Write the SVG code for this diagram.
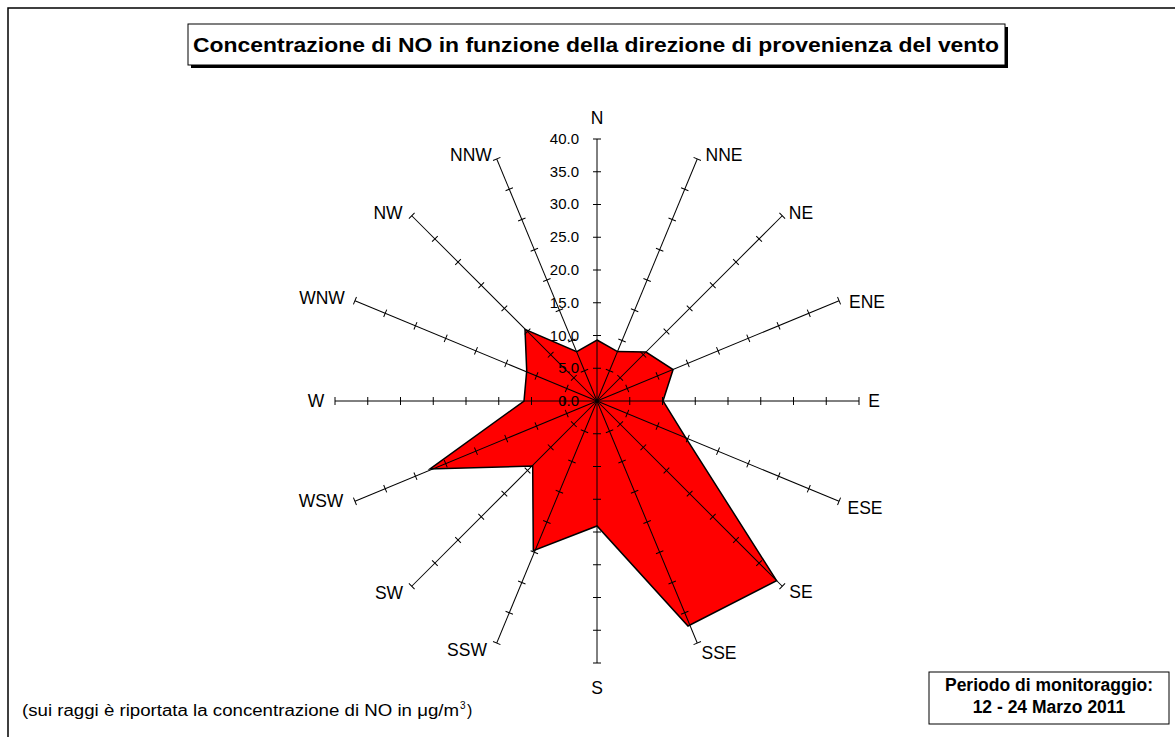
<svg xmlns="http://www.w3.org/2000/svg" width="1175" height="737" viewBox="0 0 1175 737">
<style>
.ax{stroke:#000;stroke-width:1;fill:none}
.tk{stroke:#000;stroke-width:1}
.dir{font-family:"Liberation Sans",Arial,sans-serif;font-size:17.5px;fill:#000;text-anchor:middle}
.val{font-family:"Liberation Sans",Arial,sans-serif;font-size:15px;fill:#000;text-anchor:end}
.ttl{font-family:"Liberation Sans",Arial,sans-serif;font-size:21px;font-weight:bold;fill:#000;text-anchor:middle}
.per{font-family:"Liberation Sans",Arial,sans-serif;font-size:17.5px;font-weight:bold;fill:#000;text-anchor:middle}
.note{font-family:"Liberation Sans",Arial,sans-serif;font-size:16px;fill:#000}
.sup{font-family:"Liberation Sans",Arial,sans-serif;font-size:10px;fill:#000}
</style>
<defs>
<g id="axis">
<line class="ax" x1="597" y1="401" x2="597" y2="139"/>
<path class="tk" d="M593,368.25H601M593,335.5H601M593,302.75H601M593,270H601M593,237.25H601M593,204.5H601M593,171.75H601M593,139H601"/>
</g>
</defs>
<rect x="0" y="0" width="1175" height="737" fill="#fff"/>
<rect x="8" y="8" width="1200" height="800" fill="none" stroke="#000" stroke-width="1.5"/>
<g id="title">
<rect x="191" y="27" width="817" height="41" fill="#000"/>
<rect x="188" y="24" width="817" height="41" fill="#fff" stroke="#000" stroke-width="1"/>
<text class="ttl" x="596" y="52" textLength="806" lengthAdjust="spacingAndGlyphs">Concentrazione di NO in funzione della direzione di provenienza del vento</text>
</g>
<g id="data">
<polygon points="597,340 617.5,351.6 646,352 673.1,369.5 663,401 685.7,437.7 776.6,580.6 688,626 597,526 533.3,550.7 532.7,466 430,469 524,401 526.7,370.7 525,329.3 576.7,351.7" fill="#ff0000" stroke="#000" stroke-width="1.5" stroke-linejoin="miter"/>
</g>
<g id="connectors">
<use href="#axis"/>
<use href="#axis" transform="rotate(22.5 597 401)"/>
<use href="#axis" transform="rotate(45 597 401)"/>
<use href="#axis" transform="rotate(67.5 597 401)"/>
<use href="#axis" transform="rotate(90 597 401)"/>
<use href="#axis" transform="rotate(112.5 597 401)"/>
<use href="#axis" transform="rotate(135 597 401)"/>
<use href="#axis" transform="rotate(157.5 597 401)"/>
<use href="#axis" transform="rotate(180 597 401)"/>
<use href="#axis" transform="rotate(202.5 597 401)"/>
<use href="#axis" transform="rotate(225 597 401)"/>
<use href="#axis" transform="rotate(247.5 597 401)"/>
<use href="#axis" transform="rotate(270 597 401)"/>
<use href="#axis" transform="rotate(292.5 597 401)"/>
<use href="#axis" transform="rotate(315 597 401)"/>
<use href="#axis" transform="rotate(337.5 597 401)"/>
</g>
<g id="scale">
<text class="val" x="579" y="144">40.0</text>
<text class="val" x="579" y="177">35.0</text>
<text class="val" x="579" y="209">30.0</text>
<text class="val" x="579" y="242">25.0</text>
<text class="val" x="579" y="275">20.0</text>
<text class="val" x="579" y="308">15.0</text>
<text class="val" x="579" y="341">10.0</text>
<text class="val" x="579" y="373">5.0</text>
<text class="val" x="579" y="406">0.0</text>
</g>
<g id="labels">
<text class="dir" x="597" y="124">N</text>
<text class="dir" x="724" y="161">NNE</text>
<text class="dir" x="801" y="219">NE</text>
<text class="dir" x="867" y="308">ENE</text>
<text class="dir" x="874" y="407">E</text>
<text class="dir" x="865" y="514">ESE</text>
<text class="dir" x="801" y="598">SE</text>
<text class="dir" x="719" y="659">SSE</text>
<text class="dir" x="597" y="694">S</text>
<text class="dir" x="467" y="656">SSW</text>
<text class="dir" x="389" y="599">SW</text>
<text class="dir" x="321" y="507">WSW</text>
<text class="dir" x="316" y="407">W</text>
<text class="dir" x="322" y="304">WNW</text>
<text class="dir" x="388" y="219">NW</text>
<text class="dir" x="471" y="161">NNW</text>
</g>
<g id="period">
<rect x="929" y="672" width="240" height="52" fill="#fff" stroke="#000" stroke-width="1"/>
<text class="per" x="1049" y="691">Periodo di monitoraggio:</text>
<text class="per" x="1049" y="713">12 - 24 Marzo 2011</text>
</g>
<g id="note">
<text class="note" x="22" y="716" textLength="437" lengthAdjust="spacingAndGlyphs">(sui raggi è riportata la concentrazione di NO in μg/m</text>
<text class="sup" x="460" y="709">3</text>
<text class="note" x="467" y="716">)</text>
</g>
</svg>
